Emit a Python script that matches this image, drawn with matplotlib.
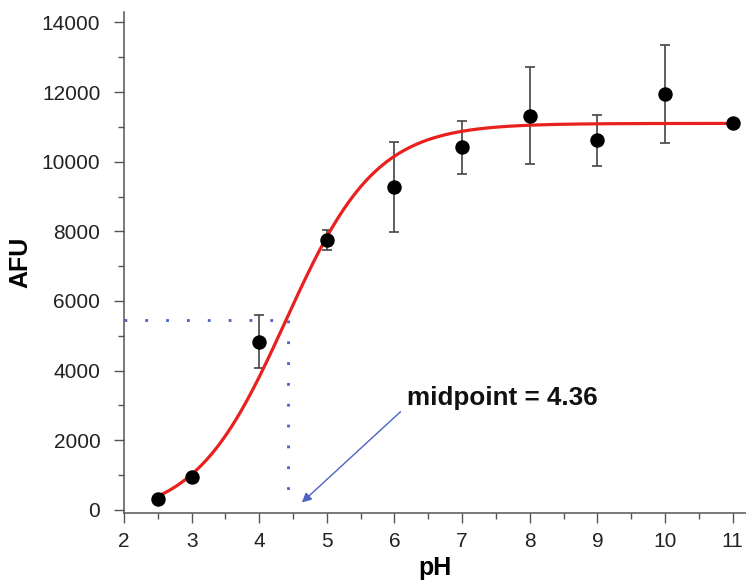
import numpy as np
import matplotlib
matplotlib.use("Agg")
import matplotlib.pyplot as plt
from matplotlib.ticker import MultipleLocator

plt.rcParams['font.family'] = ['Liberation Sans', 'DejaVu Sans']

# data
ph = [2.5, 3, 4, 5, 6, 7, 8, 9, 10, 11]
afu = [300, 955, 4830, 7740, 9280, 10420, 11320, 10610, 11950, 11110]
err = [0, 0, 760, 285, 1300, 760, 1390, 740, 1400, 0]

# sigmoid fit (Boltzmann) parameters
bottom_val = -250
top_val = 11100
x0 = 4.39
slope = 0.67
midpoint_label = "midpoint = 4.36"
mid_x = 4.42
mid_y = 5450

fig = plt.figure(figsize=(7.46, 5.88), dpi=100)
ax = fig.add_axes([0.1662, 0.1276, 0.834, 0.852])

xs = np.linspace(2.5, 11, 400)
fit = bottom_val + (top_val - bottom_val) / (1 + np.exp(-(xs - x0) / slope))
ax.plot(xs, fit, color='#e8211f', lw=2.3, zorder=3)

ax.errorbar(ph, afu, yerr=err, fmt='none', ecolor='#444444', elinewidth=1.2,
            capsize=3.6, capthick=1.2, zorder=2)
ax.plot(ph, afu, 'o', color='black', ms=9.4, zorder=4)

# dotted guide lines to the midpoint
ax.plot([2, mid_x], [mid_y, mid_y], color='#4a5fc1', lw=2, ls=(0, (1, 6.5)), zorder=1)
ax.plot([mid_x, mid_x], [mid_y, 120], color='#4a5fc1', lw=2, ls=(0, (1, 6.5)), zorder=1)

ax.annotate('', xy=(4.63, 210), xytext=(6.09, 2820),
            arrowprops=dict(arrowstyle='-|>', color='#4a64c0', lw=1,
                            mutation_scale=14, shrinkA=0, shrinkB=0))
ax.text(6.18, 3010, midpoint_label, fontsize=18.7, fontweight='bold',
        color='#111111', ha='left', va='baseline')

ax.set_xlim(2, 11.2)
ax.set_ylim(-90, 14300)
ax.xaxis.set_major_locator(MultipleLocator(1))
ax.xaxis.set_minor_locator(MultipleLocator(0.5))
ax.yaxis.set_major_locator(MultipleLocator(2000))
ax.yaxis.set_minor_locator(MultipleLocator(1000))

for s in ['top', 'right']:
    ax.spines[s].set_visible(False)
for s in ['left', 'bottom']:
    ax.spines[s].set_color('#555555')
    ax.spines[s].set_linewidth(1.1)

ax.tick_params(which='major', length=7, width=1, color='#555555',
               labelsize=15, labelcolor='#222222')
ax.tick_params(which='minor', length=4, width=1, color='#555555')
ax.tick_params(axis='x', which='major', pad=7)
ax.tick_params(axis='y', which='major', pad=10)

ax.set_xlabel('pH', fontsize=18, fontweight='bold', labelpad=3)
ax.set_ylabel('AFU', fontsize=18, fontweight='bold', labelpad=7)

fig.savefig('out.png', dpi=100)
